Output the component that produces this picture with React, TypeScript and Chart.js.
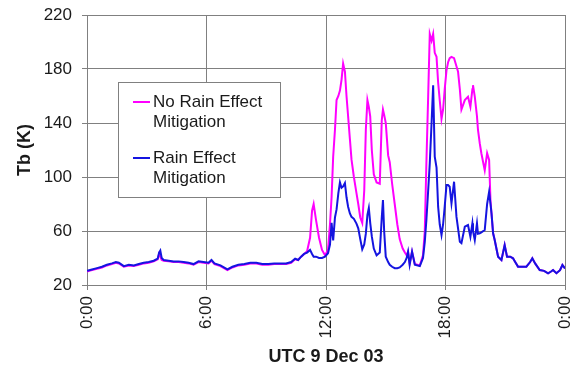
import React, { useEffect, useRef } from "react";
import { Chart, registerables } from "chart.js";

Chart.register(...registerables);

// Time of day (hours UTC, 9 Dec 03)
const hours: number[] = [
  0.0, 0.25, 0.5, 0.75, 1.0, 1.25, 1.45, 1.6, 1.85, 2.1, 2.35, 2.6, 2.85, 3.1, 3.35, 3.55, 3.62, 3.68, 3.75, 3.85,
  4.1, 4.35, 4.6, 4.85, 5.1, 5.35, 5.6, 5.85, 6.1, 6.25, 6.4, 6.7, 7.05, 7.3, 7.6, 7.9, 8.2, 8.5, 8.8, 9.1,
  9.4, 9.7, 10.0, 10.25, 10.45, 10.6, 10.75, 10.9, 11.05, 11.2, 11.3, 11.38, 11.5, 11.65, 11.8, 11.95, 12.1, 12.2, 12.28, 12.36,
  12.45, 12.53, 12.62, 12.7, 12.78, 12.86, 12.95, 13.03, 13.11, 13.2, 13.28, 13.4, 13.53, 13.62, 13.72, 13.82, 13.92, 14.0, 14.08, 14.15,
  14.22, 14.3, 14.4, 14.54, 14.7, 14.8, 14.86, 14.92, 15.0, 15.12, 15.2, 15.32, 15.45, 15.58, 15.7, 15.85, 15.96, 16.05, 16.12, 16.2,
  16.32, 16.46, 16.71, 16.87, 16.96, 17.04, 17.13, 17.21, 17.3, 17.38, 17.46, 17.55, 17.63, 17.71, 17.8, 17.88, 17.96, 18.05, 18.13, 18.21,
  18.3, 18.43, 18.55, 18.63, 18.72, 18.8, 18.97, 19.13, 19.25, 19.35, 19.38, 19.47, 19.58, 19.63, 19.72, 19.8, 19.97, 20.09, 20.19, 20.26,
  20.31, 20.39, 20.47, 20.64, 20.81, 20.97, 21.09, 21.25, 21.39, 21.5, 21.64, 21.85, 22.06, 22.25, 22.36, 22.5, 22.73, 22.95, 23.15, 23.3,
  23.4, 23.57, 23.75, 23.87, 24.0,
];

// Tb (K) with rain effect mitigation (blue)
const rainMitigation: number[] = [
  30.5, 31.5, 32.5, 33.5, 35, 36, 37, 36.5, 34, 35, 34.5, 35.5, 36.5, 37, 38, 39.5, 44, 45.5, 40, 38.5,
  38, 37.5, 37.5, 37, 36.5, 35.5, 37.5, 37, 36.5, 38.5, 36, 34.5, 31.5, 33.5, 35, 35.5, 36.5, 36.5, 35.5, 35.5,
  36, 36, 36, 37, 39.5, 38.5, 41, 43, 44, 46, 43, 41, 41, 40, 40, 41, 43.5, 50, 66, 53,
  70, 76, 88, 96, 92, 93, 95.5, 85, 78, 73, 70.5, 69, 65.5, 62, 54, 46.5, 50, 58, 72, 77,
  66, 56, 47, 42, 44, 70, 83, 60, 41, 37, 35, 33.5, 32.5, 32.5, 33, 35, 37, 40, 44.7, 35,
  44.7, 35, 34, 40, 52, 68, 90, 110, 140, 168, 115, 107, 78, 65, 57, 65, 78, 94, 94, 92.8,
  80.5, 96.5, 70.6, 62, 52, 51, 63.2, 64.4, 55.8, 65.7, 60, 53.3, 65.7, 58, 58.3, 59, 60.7, 80, 89, 80,
  73, 58.3, 53.3, 41, 38.5, 49.6, 41, 41, 39.8, 37, 33.6, 33.6, 33.6, 37, 39.8, 36, 31.1, 30.5, 28.7, 30,
  31.1, 28.7, 31, 34.8, 32.3,
];

// Tb (K) without rain effect mitigation (magenta)
const noRainMitigation: number[] = [
  30, 31, 32, 33, 34.5, 35.5, 36.5, 36, 33.5, 34.5, 34, 35, 36, 36.5, 37.5, 39, 43, 41, 38.5, 38,
  37.5, 37, 37, 36.5, 36, 35, 37, 36.5, 36, 38, 35.5, 34, 31, 33, 34.5, 35, 36, 36, 35, 35,
  35.5, 35.5, 35.5, 36.5, 39, 38.5, 41, 43, 45, 55, 75, 80, 68, 55, 46, 42, 46, 65, 85, 115,
  135, 157, 160, 164, 172, 184, 178, 160, 145, 128, 113, 100, 88, 80, 70, 66, 90, 135, 157, 152,
  145, 120, 102, 96, 95, 142, 150, 146, 140, 116, 111, 95, 80, 65, 54, 47, 44, 42, 44.7, 36,
  44.7, 35.5, 34.5, 42, 60, 110, 160, 206, 201, 206, 192, 189, 170, 157, 143, 150, 165, 179, 185, 188,
  189, 188, 182, 178, 165, 150, 157, 159.5, 152, 165, 168, 159.5, 145, 135, 125, 117.6, 105, 117.6, 112.6, 82,
  73, 58.3, 53.3, 41, 38.5, 49.6, 41, 41, 39.8, 37, 33.6, 33.6, 33.6, 37, 39.8, 36, 31.1, 30.5, 28.7, 30,
  31.1, 28.7, 31, 34.8, 32.3,
];

const xTicks: number[] = [0, 6, 12, 18, 24];
const xTickLabels: string[] = ["0:00", "6:00", "12:00", "18:00", "0:00"];
const yTicks: number[] = [20, 60, 100, 140, 180, 220];

const legendItems = [
  { lines: ["No Rain Effect", "Mitigation"], color: "#ff00ff" },
  { lines: ["Rain Effect", "Mitigation"], color: "#1414e0" },
];

const FONT = "'Liberation Sans', Arial, Helvetica, sans-serif";

const legendPlugin = {
  id: "boxLegend",
  afterDatasetsDraw(chart: any) {
    const ctx = chart.ctx as CanvasRenderingContext2D;
    const bx = 118, by = 82, bw = 162, bh = 115;
    ctx.save();
    ctx.fillStyle = "#ffffff";
    ctx.fillRect(bx, by, bw, bh);
    ctx.strokeStyle = "#808080";
    ctx.lineWidth = 1;
    ctx.strokeRect(bx + 0.5, by + 0.5, bw, bh);
    ctx.font = `17px ${FONT}`;
    ctx.textBaseline = "middle";
    ctx.textAlign = "left";
    const starts = [102, 158];
    legendItems.forEach((it, i) => {
      const y = starts[i];
      ctx.strokeStyle = it.color;
      ctx.lineWidth = 2;
      ctx.beginPath();
      ctx.moveTo(133, y);
      ctx.lineTo(150, y);
      ctx.stroke();
      ctx.fillStyle = "#1a1a1a";
      it.lines.forEach((t, j) => ctx.fillText(t, 153, y + j * 20));
    });
    ctx.restore();
  },
};

export default function App() {
  const ref = useRef<HTMLCanvasElement | null>(null);
  useEffect(() => {
    if (!ref.current) return;
    const blue = hours.map((h, i) => ({ x: h, y: rainMitigation[i] }));
    const mag = hours.map((h, i) => ({ x: h, y: noRainMitigation[i] }));
    const chart = new Chart(ref.current, {
      type: "line",
      data: {
        datasets: [
          {
            label: "Rain Effect Mitigation",
            data: blue,
            borderColor: "#1414e0",
            borderWidth: 2,
            pointRadius: 0,
            tension: 0,
            order: 0,
          },
          {
            label: "No Rain Effect Mitigation",
            data: mag,
            borderColor: "#ff00ff",
            borderWidth: 2,
            pointRadius: 0,
            tension: 0,
            order: 1,
          },
        ],
      },
      options: {
        animation: false,
        responsive: true,
        maintainAspectRatio: false,
        layout: { padding: { top: 15, right: 11, left: 0, bottom: 0 } },
        plugins: { legend: { display: false }, tooltip: { enabled: false } },
        scales: {
          x: {
            type: "linear",
            min: 0,
            max: 24,
            afterBuildTicks: (scale: any) => {
              scale.ticks = xTicks.map((v) => ({ value: v }));
            },
            afterFit: (scale: any) => {
              scale.height = 85;
              scale.paddingLeft = 0;
              scale.paddingRight = 0;
            },
            ticks: {
              autoSkip: false,
              minRotation: 90,
              maxRotation: 90,
              padding: 6,
              color: "#1a1a1a",
              font: { family: FONT, size: 17 },
              callback: (v: any) => {
                const idx = xTicks.indexOf(Number(v));
                return idx >= 0 ? xTickLabels[idx] : "";
              },
            },
            grid: { color: "#808080", lineWidth: 1, tickLength: 5, drawTicks: true },
            border: { display: true, color: "#808080" },
            title: {
              display: true,
              text: "UTC 9 Dec 03",
              color: "#1a1a1a",
              font: { family: FONT, size: 18, weight: "bold" },
              padding: { top: 0, bottom: 2 },
            },
          },
          y: {
            type: "linear",
            min: 20,
            max: 220,
            afterBuildTicks: (scale: any) => {
              scale.ticks = yTicks.map((v) => ({ value: v }));
            },
            afterFit: (scale: any) => {
              scale.width = 87;
              scale.paddingTop = 0;
              scale.paddingBottom = 0;
            },
            ticks: {
              padding: 10,
              color: "#1a1a1a",
              font: { family: FONT, size: 17 },
            },
            grid: { color: "#808080", lineWidth: 1, tickLength: 5, drawTicks: true },
            border: { display: true, color: "#808080" },
            title: {
              display: true,
              text: "Tb (K)",
              color: "#1a1a1a",
              font: { family: FONT, size: 18, weight: "bold" },
              padding: { top: 14, bottom: 0 },
            },
          },
        },
      },
      plugins: [legendPlugin],
    });
    return () => chart.destroy();
  }, []);
  return (
    <div style={{ position: "fixed", left: 0, top: 0, width: 576, height: 370, background: "#fff" }}>
      <canvas ref={ref} />
    </div>
  );
}
